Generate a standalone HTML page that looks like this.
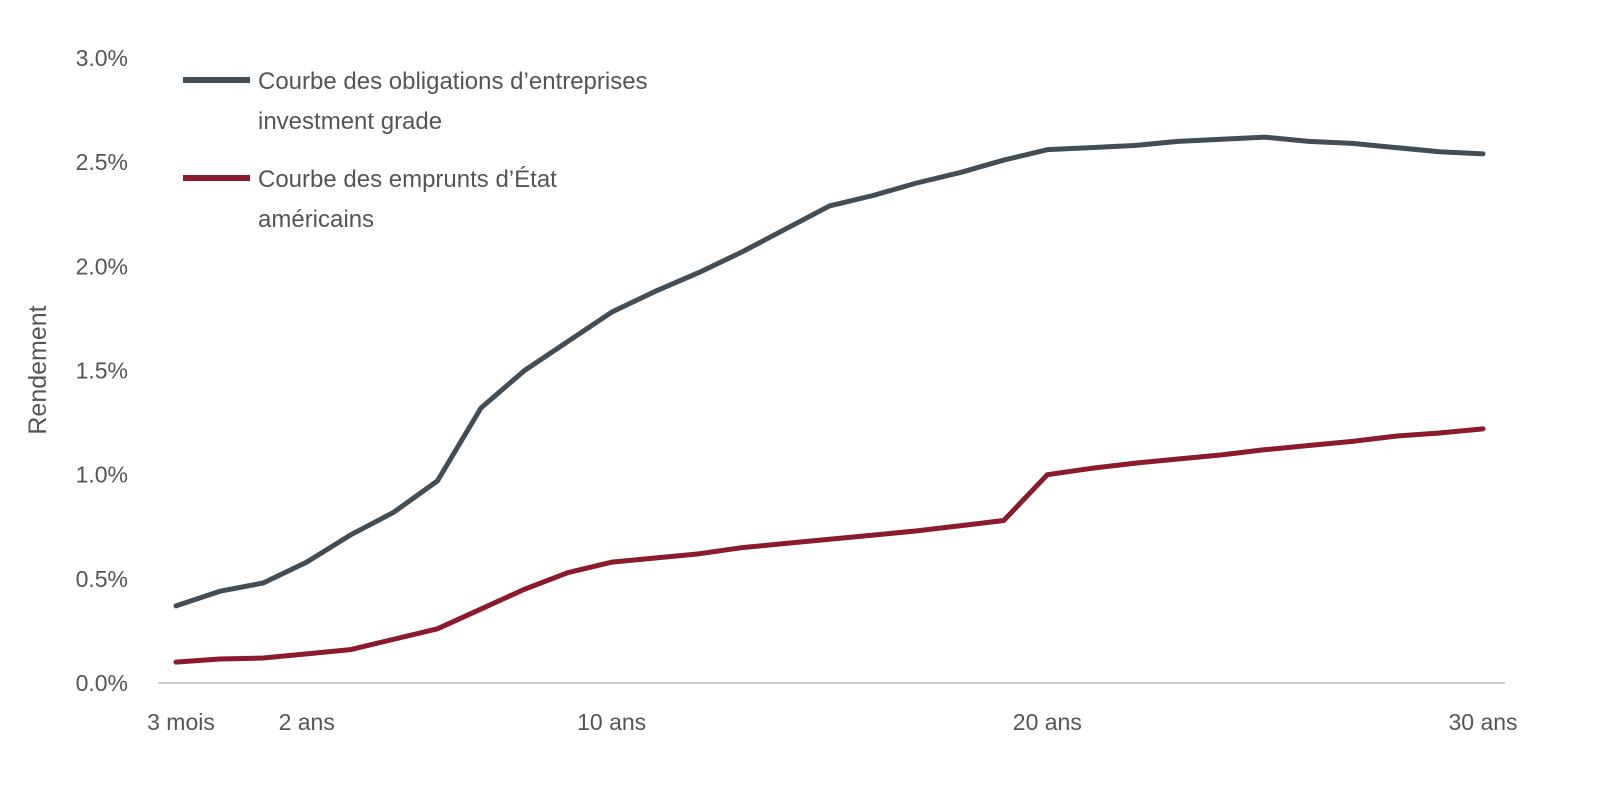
<!DOCTYPE html>
<html><head><meta charset="utf-8"><style>
body{margin:0;background:#fff;}
svg{display:block;font-family:"Liberation Sans",sans-serif;}
</style></head><body>
<svg id="chart" width="1600" height="790" viewBox="0 0 1600 790">
<g id="axes"></g><g id="series"></g>
<g>
<line x1="183" y1="80" x2="250" y2="80" stroke="#434d55" stroke-width="6"/>
<text x="258" y="89" font-size="24" fill="#555">Courbe des obligations d’entreprises</text>
<text x="258" y="129" font-size="24" fill="#555">investment grade</text>
<line x1="183" y1="178" x2="250" y2="178" stroke="#8b1a2b" stroke-width="6"/>
<text x="258" y="187" font-size="24" fill="#555">Courbe des emprunts d’État</text>
<text x="258" y="227" font-size="24" fill="#555">américains</text>
</g>
<text transform="translate(46,370) rotate(-90)" text-anchor="middle" font-size="25" fill="#555">Rendement</text>
</svg>
<script>
const corporate=[0.37,0.44,0.48,0.58,0.71,0.82,0.97,1.32,1.50,1.64,1.78,1.88,1.97,2.07,2.18,2.29,2.34,2.40,2.45,2.51,2.56,2.57,2.58,2.60,2.61,2.62,2.60,2.59,2.57,2.55,2.54];
const treasury=[0.10,0.115,0.12,0.14,0.16,0.21,0.26,0.355,0.45,0.53,0.58,0.60,0.62,0.65,0.67,0.69,0.71,0.73,0.755,0.78,1.00,1.03,1.055,1.075,1.095,1.12,1.14,1.16,1.185,1.20,1.22];
const yTicks=[0,0.5,1.0,1.5,2.0,2.5,3.0];
const xLabelIdx=[0,3,10,20,30];
const xLabels=["3 mois","2 ans","10 ans","20 ans","30 ans"];
const NS="http://www.w3.org/2000/svg";
const x=i=>176+i*(1483-176)/30;
const y=v=>683-v*(683-58)/3;
const axes=document.getElementById('axes'),series=document.getElementById('series');
function mk(tag,attrs,parent){const e=document.createElementNS(NS,tag);for(const k in attrs)e.setAttribute(k,attrs[k]);parent.appendChild(e);return e;}
const ax=mk('line',{x1:158,y1:683,x2:1505,y2:683,stroke:'#bfbfbf','stroke-width':1.5},axes);


yTicks.forEach(v=>{const t=mk('text',{x:128,y:y(v)+8,'text-anchor':'end','font-size':23,fill:'#555'},axes);t.textContent=v.toFixed(1)+'%';

});
xLabelIdx.forEach((ix,k)=>{const t=mk('text',{x:x(ix)+(k==0?5:0),y:730,'text-anchor':'middle','font-size':23,fill:'#555'},axes);t.textContent=xLabels[k];

});
function line(data,color,name){const p=mk('polyline',{points:data.map((v,i)=>x(i)+','+y(v)).join(' '),fill:'none',stroke:color,'stroke-width':5,'stroke-linejoin':'round','stroke-linecap':'round'},series);

}
line(corporate,'#434d55','corporate-curve-line');
line(treasury,'#8b1a2b','treasury-curve-line');
</script>
</body></html>
